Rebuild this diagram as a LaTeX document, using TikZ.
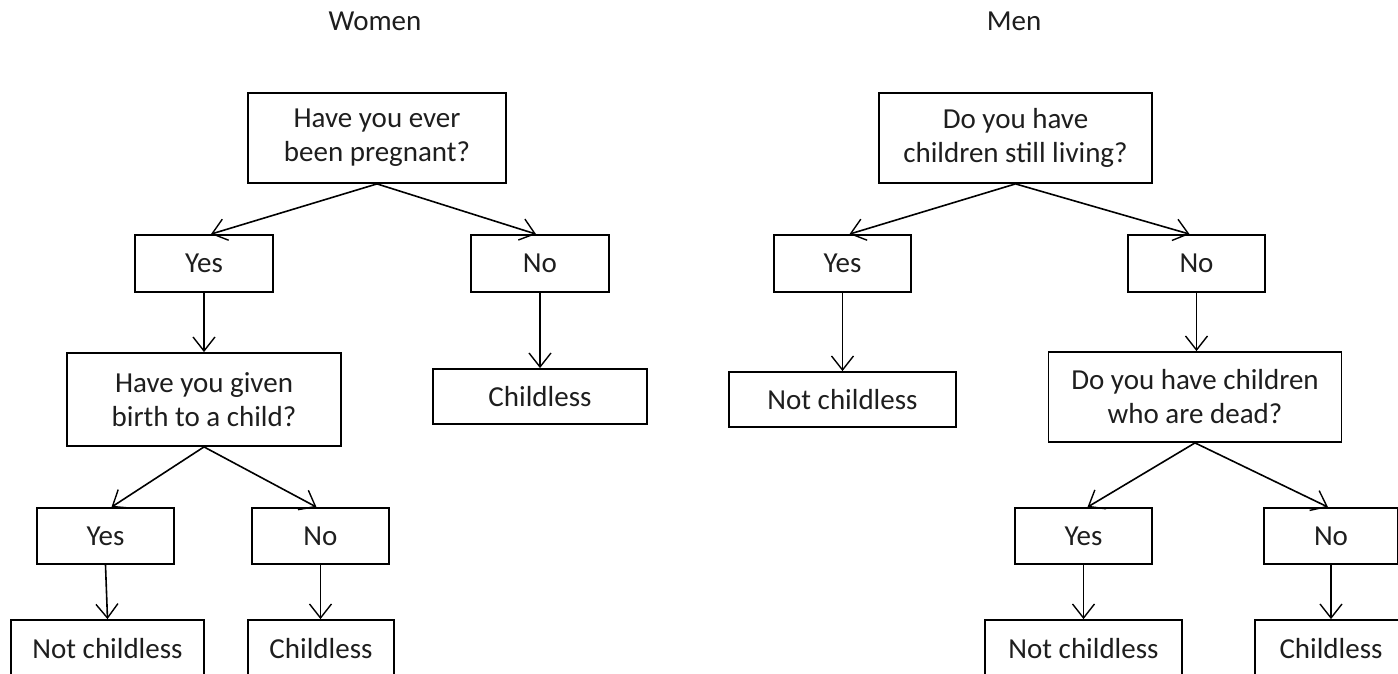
\documentclass[tikz,border=0pt]{standalone}
\usepackage{fontspec}
\setmainfont{Carlito}
\usetikzlibrary{arrows.meta,calc}
\definecolor{txt}{RGB}{30,30,30}
\tikzset{
  box/.style={draw=black, line width=1.8pt, inner sep=0pt, align=center,
    font=\fontsize{29}{34}\selectfont, text=txt},
  ttl/.style={inner sep=0pt, font=\fontsize{29}{34}\selectfont, text=txt},
  arr/.style={draw=black, line width=1.6pt,
    -{Straight Barb[length=14pt,width=22pt,line width=1.4pt]}}
}
\begin{document}
\begin{tikzpicture}[x=1pt,y=-1pt]
\useasboundingbox (0,0) rectangle (1398,674);
\begin{scope}
\clip (0,0) rectangle (1398,674);
% titles
\node[ttl] (tw) at (375,21) {Women};
\node[ttl] (tm) at (1014,21) {Men};
% women
\node[box, minimum width=258pt, minimum height=90pt] (wq1) at (377,138) {Have you ever\\been pregnant?};
\node[box, minimum width=138pt, minimum height=57pt] (wyes) at (204,263.5) {Yes};
\node[box, minimum width=138pt, minimum height=57pt] (wno) at (540,263.5) {No};
\node[box, minimum width=274pt, minimum height=93pt] (wq2) at (204,399.5) {Have you given\\birth to a child?};
\node[box, minimum width=214pt, minimum height=55pt] (wch1) at (540,396.5) {Childless};
\node[box, minimum width=137pt, minimum height=56pt] (wyes2) at (105.5,536) {Yes};
\node[box, minimum width=137pt, minimum height=56pt] (wno2) at (320.5,536) {No};
\node[box, minimum width=193pt, minimum height=58pt] (wnc2) at (107.5,649) {Not childless};
\node[box, minimum width=146pt, minimum height=58pt] (wch2) at (321,649) {Childless};
% men
\node[box, minimum width=273pt, minimum height=90pt] (mq1) at (1015.5,138) {Do you have\\children still living?};
\node[box, minimum width=137pt, minimum height=57pt] (myes) at (842.5,263.5) {Yes};
\node[box, minimum width=137pt, minimum height=57pt] (mno) at (1196.5,263.5) {No};
\node[box, minimum width=227pt, minimum height=55pt] (mnc1) at (842.5,399.5) {Not childless};
\node[box, minimum width=293pt, minimum height=90pt] (mq2) at (1195,397) {Do you have children\\who are dead?};
\node[box, minimum width=137pt, minimum height=56pt] (myes3) at (1083.5,536) {Yes};
\node[box, minimum width=134pt, minimum height=56pt] (mno3) at (1331,536) {No};
\node[box, minimum width=197pt, minimum height=58pt] (mnc3) at (1083.5,649) {Not childless};
\node[box, minimum width=152pt, minimum height=58pt] (mch3) at (1331,649) {Childless};
% women connectors
\draw[arr] (wq1.south) -- ([xshift=7pt]wyes.north);
\draw[arr] (wq1.south) -- ([xshift=-4pt]wno.north);
\draw[arr] (wyes.south) -- (wq2.north);
\draw[arr] (wno.south) -- (wch1.north);
\draw[arr] (wq2.south) -- ([xshift=6pt]wyes2.north);
\draw[arr] (wq2.south) -- ([xshift=-4pt]wno2.north);
\draw[arr] (wyes2.south) -- (wnc2.north);
\draw[arr] (wno2.south) -- (wch2.north -| wno2.south);
% men connectors
\draw[arr] (mq1.south) -- ([xshift=7pt]myes.north);
\draw[arr] (mq1.south) -- ([xshift=-7pt]mno.north);
\draw[arr] (myes.south) -- (mnc1.north);
\draw[arr] (mno.south) -- (mq2.north -| mno.south);
\draw[arr] (mq2.south) -- ([xshift=4pt]myes3.north);
\draw[arr] (mq2.south) -- ([xshift=-3pt]mno3.north);
\draw[arr] (myes3.south) -- (mnc3.north);
\draw[arr] (mno3.south) -- (mch3.north);
\end{scope}
\end{tikzpicture}
\end{document}
